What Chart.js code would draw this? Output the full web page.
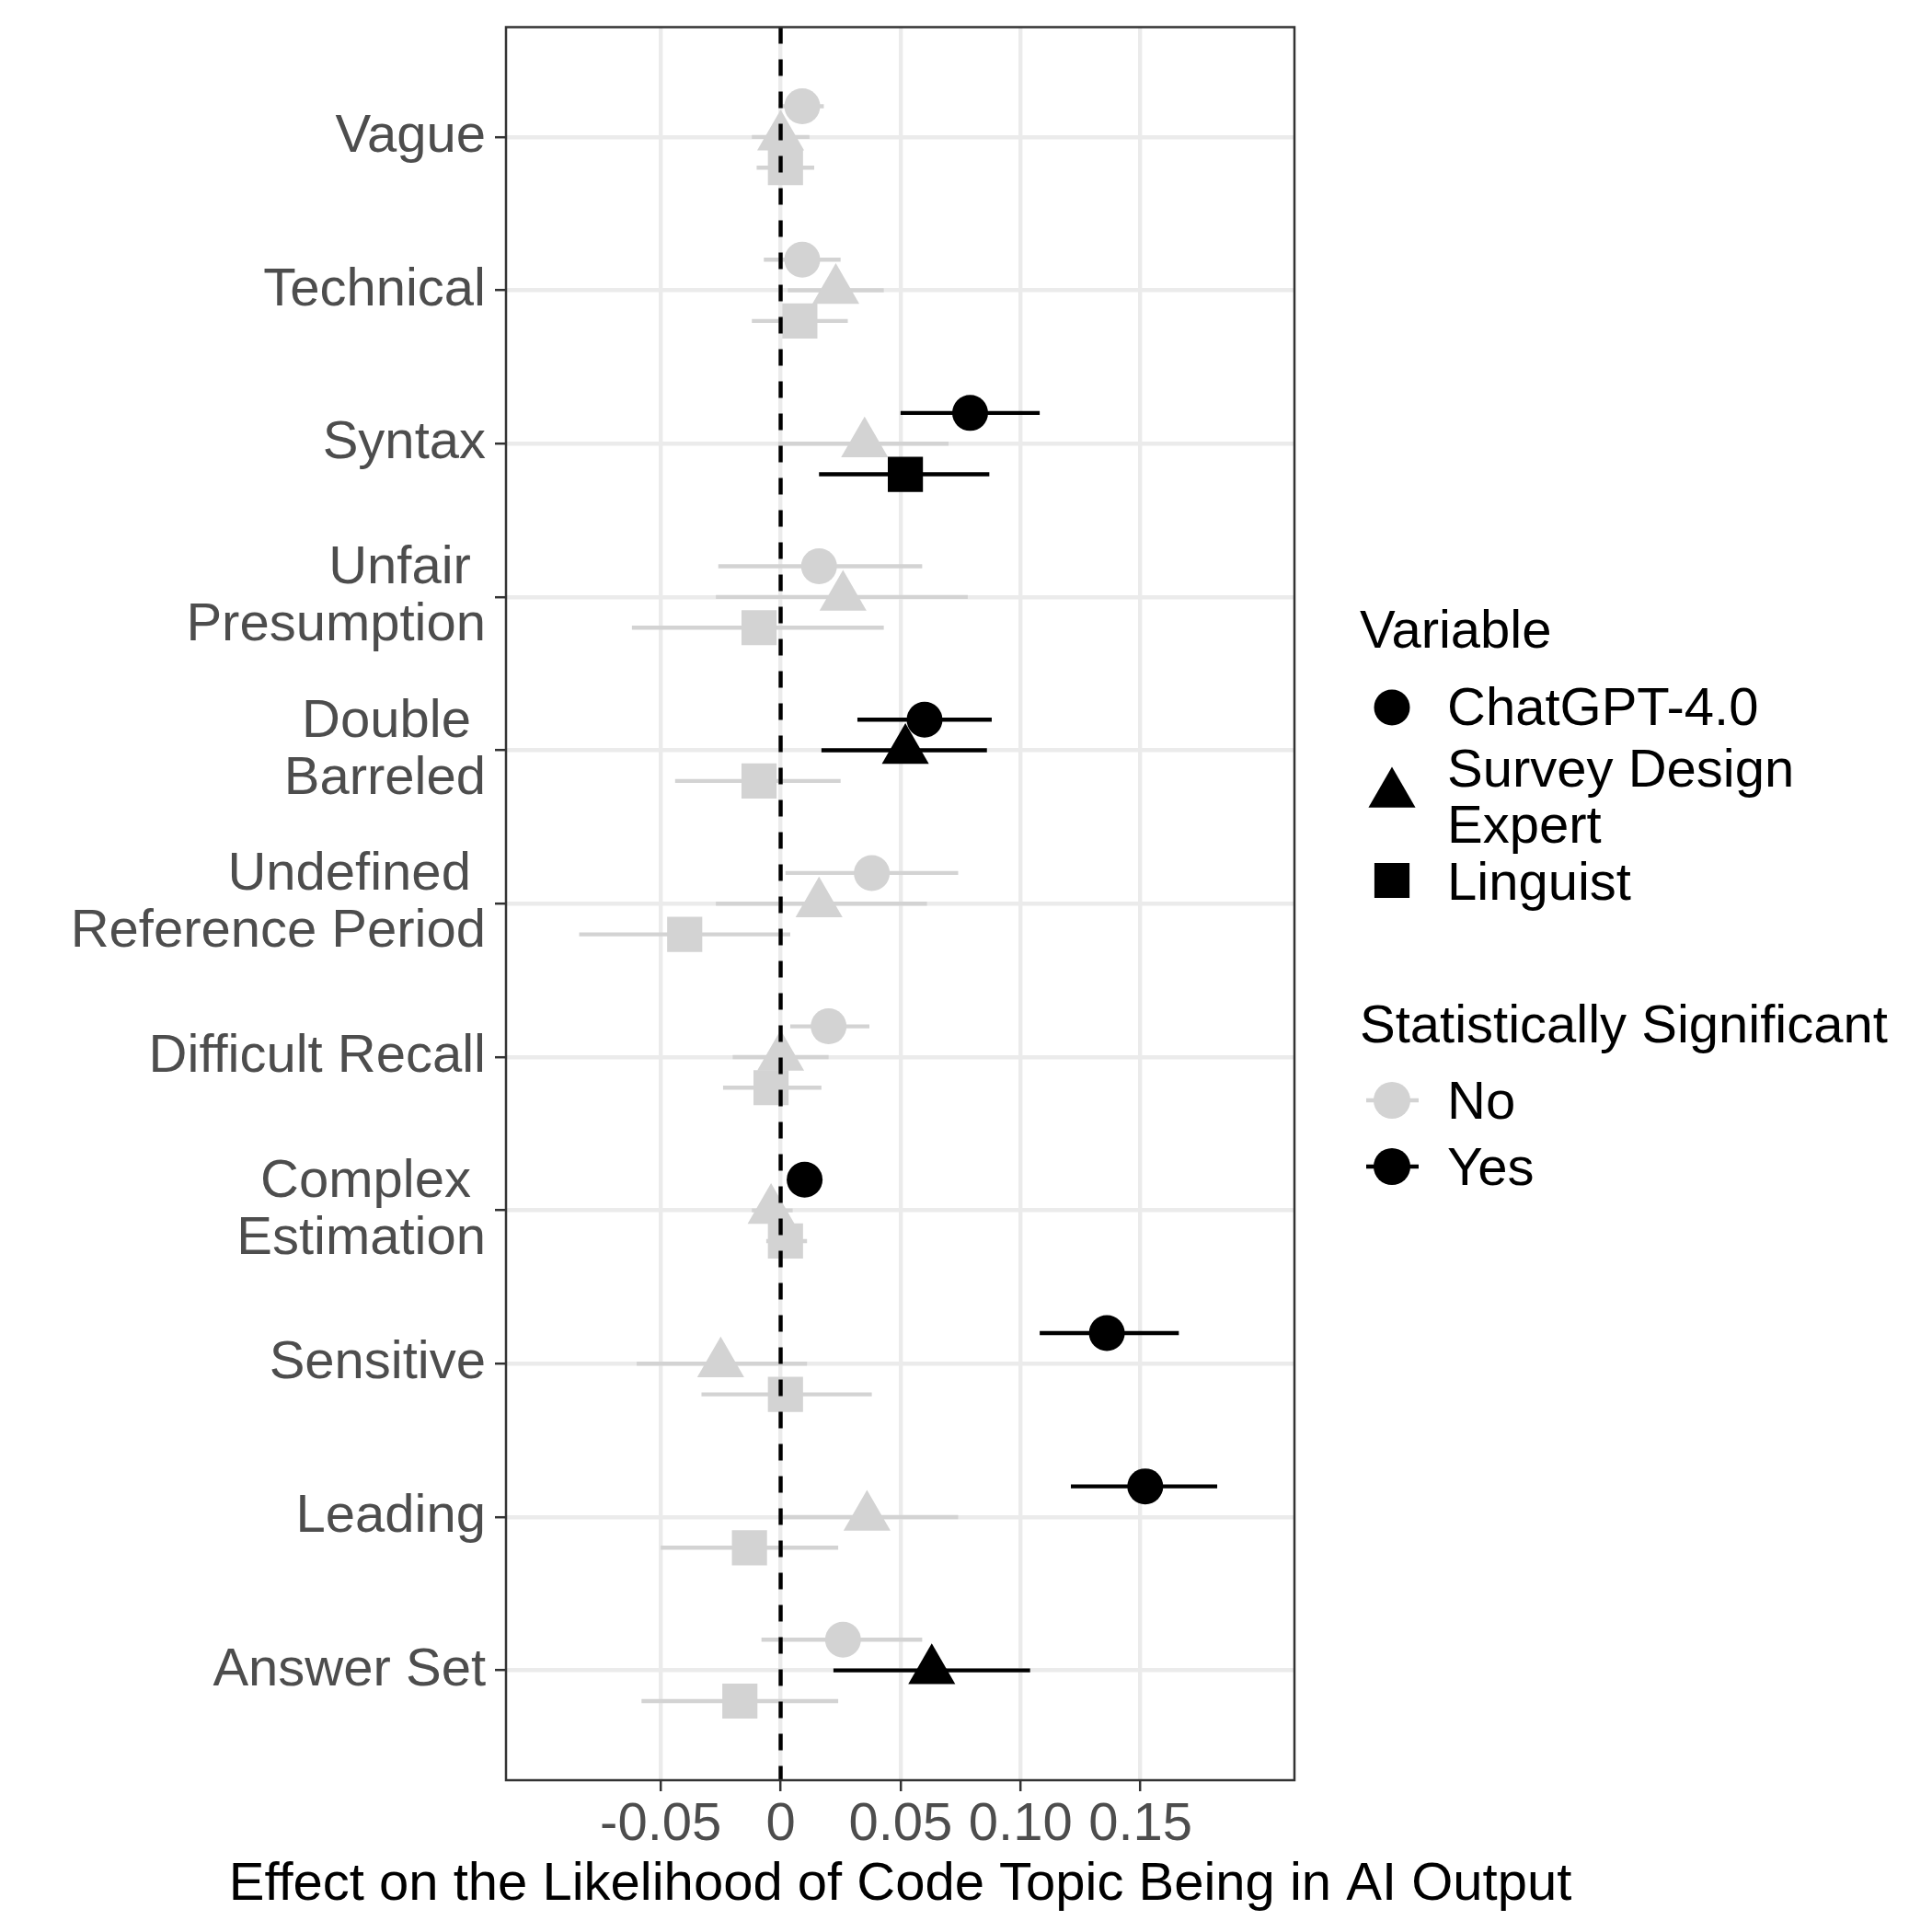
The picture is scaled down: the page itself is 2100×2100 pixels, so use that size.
<!DOCTYPE html>
<html lang="en">
<head>
<meta charset="UTF-8">
<title>Effect on the Likelihood of Code Topic Being in AI Output</title>
<script src="https://cdn.jsdelivr.net/npm/chart.js"></script>
<style>
  html, body { margin: 0; padding: 0; background: #fff; }
  canvas { display: block; }
</style>
</head>
<body>
<canvas id="effectChart" width="2100" height="2100"></canvas>
<script>
// code topics, top to bottom
const categories = ['Vague', 'Technical', 'Syntax', 'Unfair \nPresumption', 'Double \nBarreled',
  'Undefined \nReference Period', 'Difficult Recall', 'Complex \nEstimation', 'Sensitive', 'Leading', 'Answer Set'];

// ChatGPT-4.0
const gptEst = [0.009, 0.009, 0.079, 0.016, 0.060, 0.038, 0.020, 0.010, 0.136, 0.152, 0.026];
const gptLo  = [-0.001, -0.007, 0.050, -0.026, 0.032, 0.002, 0.004, 0.008, 0.108, 0.121, -0.008];
const gptHi  = [0.018, 0.025, 0.108, 0.059, 0.088, 0.074, 0.037, 0.013, 0.166, 0.182, 0.059];
const gptSig = [0, 0, 1, 0, 1, 0, 0, 1, 1, 1, 0];

// Survey Design Expert
const expertEst = [0.000, 0.023, 0.035, 0.026, 0.052, 0.016, 0.000, -0.004, -0.025, 0.036, 0.063];
const expertLo  = [-0.012, 0.003, -0.001, -0.027, 0.017, -0.027, -0.020, -0.012, -0.060, -0.001, 0.022];
const expertHi  = [0.012, 0.043, 0.070, 0.078, 0.086, 0.061, 0.020, 0.005, 0.011, 0.074, 0.104];
const expertSig = [0, 0, 0, 0, 1, 0, 0, 0, 0, 0, 1];

// Linguist
const lingEst = [0.002, 0.008, 0.052, -0.009, -0.009, -0.040, -0.004, 0.002, 0.002, -0.013, -0.017];
const lingLo  = [-0.010, -0.012, 0.016, -0.062, -0.044, -0.084, -0.024, -0.006, -0.033, -0.050, -0.058];
const lingHi  = [0.014, 0.028, 0.087, 0.043, 0.025, 0.004, 0.017, 0.011, 0.038, 0.024, 0.024];
const lingSig = [0, 0, 1, 0, 0, 0, 0, 0, 0, 0, 0];

const xTickValues = [-0.05, 0, 0.05, 0.10, 0.15];
const xTickLabels = ['-0.05', '0', '0.05', '0.10', '0.15'];
const xTitle = 'Effect on the Likelihood of Code Topic Being in AI Output';

const GREY = '#D3D3D3';
const BLACK = '#000000';
const FONT = '"Liberation Sans", Arial, Helvetica, sans-serif';
const LW = 4.4;

const groups = [
  { label: 'ChatGPT-4.0', est: gptEst, lo: gptLo, hi: gptHi, sig: gptSig, style: 'circle', radius: 19.5, dodge: -0.2 },
  { label: 'Survey Design Expert', est: expertEst, lo: expertLo, hi: expertHi, sig: expertSig, style: 'triangle', radius: 29.5, dodge: 0 },
  { label: 'Linguist', est: lingEst, lo: lingLo, hi: lingHi, sig: lingSig, style: 'rect', radius: 27, dodge: 0.2 }
];

const colorOf = s => (s ? BLACK : GREY);

// horizontal confidence intervals
const errorBars = {
  id: 'errorBars',
  beforeDatasetsDraw(chart) {
    const { ctx, scales: { x, y } } = chart;
    ctx.save();
    ctx.lineWidth = LW;
    ctx.lineCap = 'butt';
    groups.forEach(g => {
      g.est.forEach((v, i) => {
        const py = y.getPixelForValue(i + g.dodge);
        ctx.strokeStyle = colorOf(g.sig[i]);
        ctx.beginPath();
        ctx.moveTo(x.getPixelForValue(g.lo[i]), py);
        ctx.lineTo(x.getPixelForValue(g.hi[i]), py);
        ctx.stroke();
      });
    });
    ctx.restore();
  }
};

// dashed zero line, panel border, x axis title
const zeroLine = {
  id: 'zeroLine',
  afterDatasetsDraw(chart) {
    const { ctx, chartArea: a, scales: { x } } = chart;
    const px = x.getPixelForValue(0);
    ctx.save();
    ctx.strokeStyle = BLACK;
    ctx.lineWidth = LW;
    ctx.setLineDash([18, 17]);
    ctx.beginPath();
    ctx.moveTo(px, a.top);
    ctx.lineTo(px, a.bottom);
    ctx.stroke();
    ctx.setLineDash([]);
    ctx.strokeStyle = '#333333';
    ctx.lineWidth = 2.5;
    ctx.strokeRect(a.left, a.top, a.right - a.left, a.bottom - a.top);

    ctx.font = '58px ' + FONT;
    ctx.fillStyle = BLACK;
    ctx.textAlign = 'center';
    ctx.textBaseline = 'alphabetic';
    ctx.fillText(xTitle, (a.left + a.right) / 2, 2065);
    ctx.restore();
  }
};

// two-part legend on the right
const sideLegend = {
  id: 'sideLegend',
  afterDraw(chart) {
    const ctx = chart.ctx;
    const mx = 1513, tx = 1573;
    ctx.save();
    ctx.font = '58px ' + FONT;
    ctx.textAlign = 'left';
    ctx.textBaseline = 'alphabetic';
    ctx.fillStyle = BLACK;
    ctx.fillText('Variable', 1478, 704);
    ctx.fillText('ChatGPT-4.0', tx, 788);
    ctx.fillText('Survey Design', tx, 855);
    ctx.fillText('Expert', tx, 916);
    ctx.fillText('Linguist', tx, 978);
    ctx.fillText('Statistically Significant', 1478, 1133);
    ctx.fillText('No', tx, 1216);
    ctx.fillText('Yes', tx, 1288);

    const marks = [[groups[0], 769], [groups[1], 863], [groups[2], 957]];
    marks.forEach(([g, my]) => {
      ctx.fillStyle = BLACK;
      Chart.helpers.drawPoint(ctx, { pointStyle: g.style, radius: g.radius, rotation: 0, borderWidth: 0 }, mx, my);
    });

    [[GREY, 1196], [BLACK, 1268]].forEach(([c, my]) => {
      ctx.strokeStyle = c;
      ctx.lineWidth = LW;
      ctx.beginPath();
      ctx.moveTo(1485, my);
      ctx.lineTo(1542, my);
      ctx.stroke();
      ctx.fillStyle = c;
      Chart.helpers.drawPoint(ctx, { pointStyle: 'circle', radius: 20, rotation: 0, borderWidth: 0 }, mx, my);
    });
    ctx.restore();
  }
};

Chart.defaults.font.family = FONT;

const chart = new Chart(document.getElementById('effectChart'), {
  type: 'scatter',
  data: {
    datasets: groups.map(g => ({
      label: g.label,
      data: g.est.map((v, i) => ({ x: v, y: i + g.dodge })),
      pointStyle: g.style,
      pointRadius: g.radius,
      pointHoverRadius: g.radius,
      pointBackgroundColor: g.sig.map(colorOf),
      pointBorderColor: g.sig.map(colorOf),
      pointBorderWidth: 0,
      showLine: false
    }))
  },
  options: {
    responsive: false,
    animation: false,
    devicePixelRatio: 1,
    layout: { padding: { left: 0, top: 23, right: 693, bottom: 0 } },
    plugins: { legend: { display: false }, tooltip: { enabled: false } },
    scales: {
      x: {
        type: 'linear',
        min: -0.1145,
        max: 0.2142,
        afterBuildTicks: s => { s.ticks = xTickValues.map(v => ({ value: v })); },
        afterFit: s => { s.height = 165; s.paddingLeft = 0; s.paddingRight = 0; },
        ticks: {
          autoSkip: false, maxRotation: 0, minRotation: 0,
          padding: 2,
          color: '#4D4D4D',
          font: { size: 58 },
          callback: (v, i) => xTickLabels[i]
        },
        grid: { color: '#EBEBEB', lineWidth: LW, tickColor: '#333333', tickWidth: 2.5, tickLength: 12 },
        border: { display: false }
      },
      y: {
        type: 'linear',
        reverse: true,
        min: -0.716,
        max: 10.716,
        afterBuildTicks: s => { s.ticks = categories.map((c, i) => ({ value: i })); },
        afterFit: s => { s.width = 550; s.paddingTop = 0; s.paddingBottom = 0; },
        ticks: {
          autoSkip: false,
          padding: 10,
          color: '#4D4D4D',
          font: { size: 58, lineHeight: 1.07 },
          callback: (v, i) => categories[i].split('\n')
        },
        grid: { color: '#EBEBEB', lineWidth: LW, tickColor: '#333333', tickWidth: 2.5, tickLength: 12 },
        border: { display: false }
      }
    }
  },
  plugins: [errorBars, zeroLine, sideLegend]
});
</script>
</body>
</html>
